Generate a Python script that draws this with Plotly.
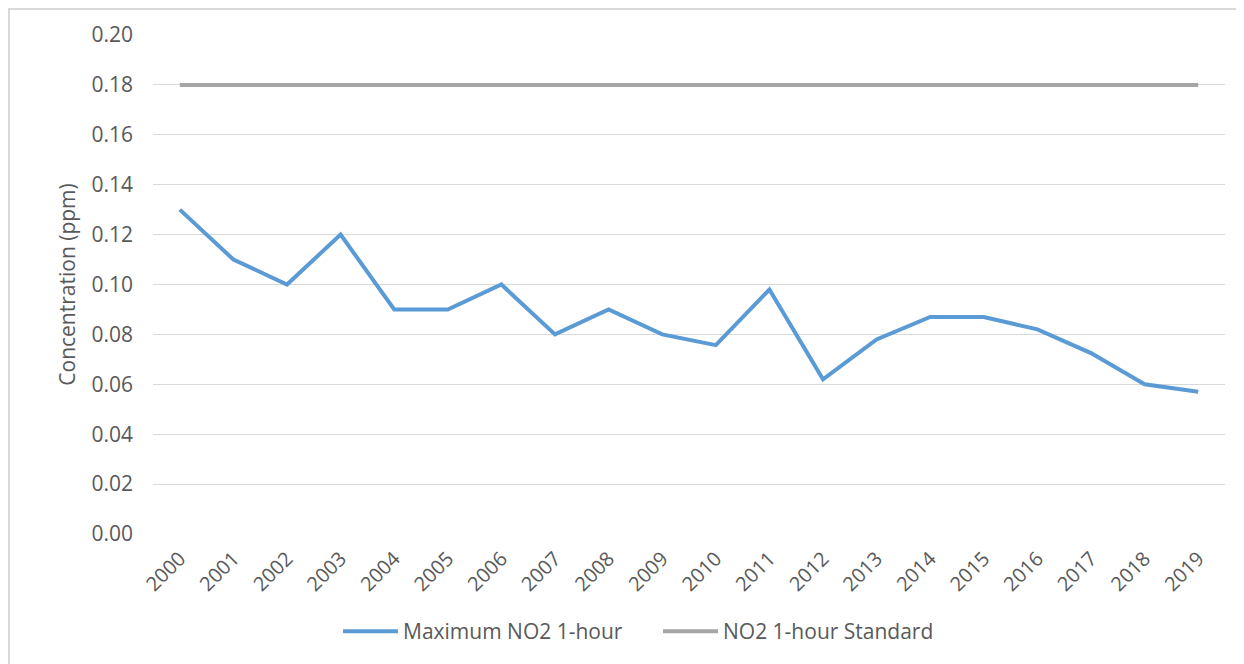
import plotly.graph_objects as go

years = [str(y) for y in range(2000, 2020)]
max_no2 = [0.130, 0.110, 0.100, 0.120, 0.090, 0.090, 0.100, 0.080, 0.090, 0.080,
           0.0757, 0.098, 0.062, 0.078, 0.087, 0.087, 0.082, 0.0725, 0.060, 0.057]
standard = [0.18] * len(years)
y_ticks = [0.00, 0.02, 0.04, 0.06, 0.08, 0.10, 0.12, 0.14, 0.16, 0.18, 0.20]

FONT = "Open Sans"
TXT = "#595959"

# page body adds an 8px margin, so the figure is 8px smaller and offset accordingly
W, H = 1236, 656
ML, MR, MT, MB = 145, 19, 27, 128
PW = W - ML - MR
PH = H - MT - MB

fig = go.Figure()
fig.add_trace(go.Scatter(x=years, y=max_no2, mode="lines", name="Maximum NO2 1-hour",
                         line=dict(color="#5B9BD5", width=4)))
fig.add_trace(go.Scatter(x=years, y=standard, mode="lines", name="NO2 1-hour Standard",
                         line=dict(color="#A5A5A5", width=4)))

fig.update_layout(
    width=W, height=H,
    margin=dict(l=ML, r=MR, t=MT, b=MB),
    paper_bgcolor="white", plot_bgcolor="white",
    font=dict(family=FONT, color=TXT, size=20),
    showlegend=True,
    legend=dict(orientation="h", x=(650 - ML) / PW, xanchor="center",
                y=(MT + PH - 626) / PH, yanchor="middle",
                font=dict(family=FONT, size=21, color=TXT), itemwidth=55,
                entrywidth=250, entrywidthmode="pixels",
                traceorder="normal"),
    xaxis=dict(type="category", range=[-0.5, 19.5], tickangle=-45, showgrid=False,
               showline=False, zeroline=False, ticks="", ticklabelstandoff=8,
               tickfont=dict(family=FONT, size=20, color=TXT)),
    yaxis=dict(range=[0, 0.2], tickvals=y_ticks, tickformat=".2f",
               showgrid=True, gridcolor="#D9D9D9", gridwidth=1, zeroline=False,
               showline=False, ticks="", ticklabelstandoff=19,
               tickfont=dict(family=FONT, size=21, color=TXT),
               title=dict(text="Concentration (ppm)", standoff=10,
                          font=dict(family=FONT, size=21, color=TXT))),
    shapes=[dict(type="rect", xref="paper", yref="paper",
                 x0=(1 - ML) / PW, x1=(W + 50 - ML) / PW,
                 y0=-(H + 50 - MT - PH) / PH, y1=(PH + MT - 1) / PH,
                 line=dict(color="#D9D9D9", width=2), fillcolor="rgba(0,0,0,0)",
                 layer="below")],
)

fig.write_html("out.html")
